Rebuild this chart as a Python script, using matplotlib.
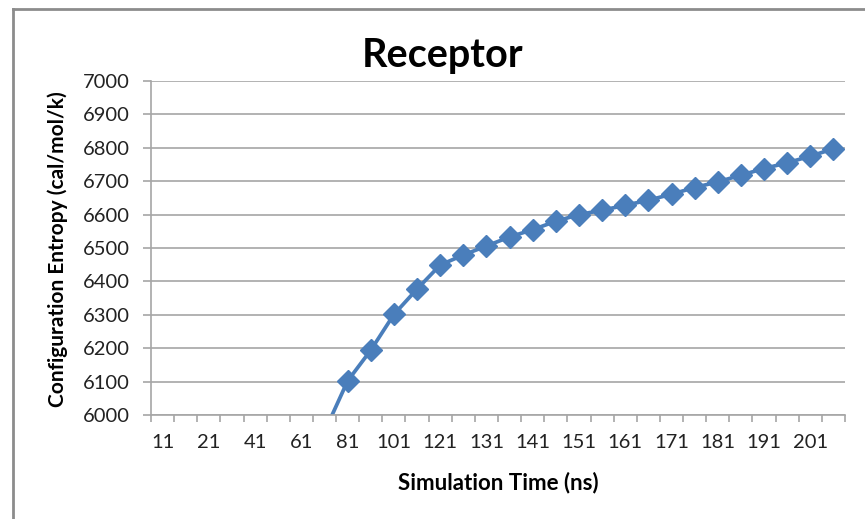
import matplotlib.pyplot as plt
from matplotlib.ticker import FixedLocator
import numpy as np

plt.rcParams['font.family'] = ['Lato', 'DejaVu Sans']

# simulation time categories (ns) and configuration entropy (cal/mol/k)
times = [11, 16, 21, 31, 41, 51, 61, 71, 81, 91, 101, 111, 121, 126, 131,
         136, 141, 146, 151, 156, 161, 166, 171, 176, 181, 186, 191, 196, 201, 206]
entropy = [np.nan, np.nan, np.nan, np.nan, np.nan, np.nan, np.nan, 5950,
           6102, 6194, 6301, 6377, 6449, 6479, 6506, 6533, 6555, 6580, 6600,
           6613, 6628, 6643, 6661, 6681, 6698, 6718, 6738, 6755, 6775, 6797]
shown_labels = [11, 21, 41, 61, 81, 101, 121, 131, 141, 151, 161, 171, 181, 191, 201]

blue = '#4a7ebb'
grid_grey = '#a6a6a6'

fig = plt.figure(figsize=(8.65, 5.19), dpi=100)
ax = fig.add_axes([151/865, 1-415/519, (845-151)/865, (415-81)/519])

x = np.arange(len(times))
ax.plot(x, entropy, color=blue, lw=2.7, marker='D', ms=11, mec=blue, mfc=blue,
        clip_on=True)

ax.set_xlim(-0.5, len(times)-0.5)
ax.set_ylim(6000, 7000)
ax.set_yticks(np.arange(6000, 7001, 100))
ax.yaxis.grid(True, color=grid_grey, lw=1.2)
ax.set_axisbelow(True)

# category axis: ticks between categories, labels on every other shown one
label_pos = [times.index(t) for t in shown_labels]
ax.xaxis.set_major_locator(FixedLocator(label_pos))
ax.set_xticklabels([str(t) for t in shown_labels])
ax.xaxis.set_minor_locator(FixedLocator(np.arange(-0.5, len(times), 1.0)))
ax.tick_params(axis='x', which='major', length=0, pad=14, labelsize=14.5, labelcolor='#222222')
ax.tick_params(axis='x', which='minor', length=5, color=grid_grey, width=1.2)
ax.tick_params(axis='y', length=6, color=grid_grey, width=1.2, pad=9,
               labelsize=14.5, labelcolor='#222222')

for s in ['top', 'right']:
    ax.spines[s].set_visible(False)
for s in ['left', 'bottom']:
    ax.spines[s].set_color(grid_grey)
    ax.spines[s].set_linewidth(1.2)

fig.text(443/865, 1-55/519, 'Receptor', ha='center', va='center',
         fontsize=28.5, fontweight='bold')
fig.text(498/865, 1-483/519, 'Simulation Time (ns)', ha='center', va='center',
         fontsize=16, fontweight='bold')
fig.text(58/865, 1-249/519, 'Configuration Entropy (cal/mol/k)', ha='center',
         va='center', rotation=90, fontsize=15, fontweight='bold')

# chart border (partly cut off in the original)
fig.add_artist(plt.Line2D([13/865, 13/865], [0, 1-9/519], color='#8c8c8c', lw=2))
fig.add_artist(plt.Line2D([13/865, 1], [1-9/519, 1-9/519], color='#8c8c8c', lw=2))

fig.savefig('out.png', dpi=100)
